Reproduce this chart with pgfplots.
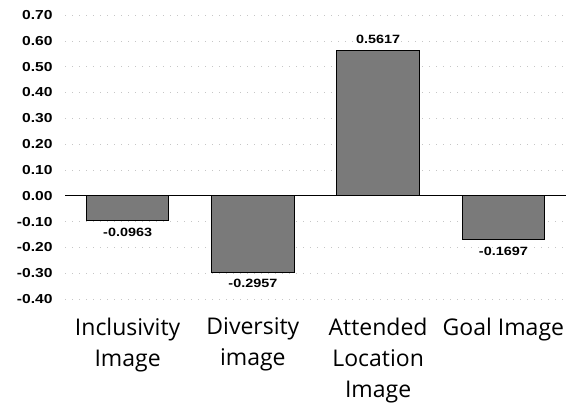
\documentclass[border=0pt]{standalone}
\usepackage{fontspec}
\setmainfont{Liberation Sans}
\newfontfamily\numfont[FakeStretch=1.2]{Liberation Sans}
\newfontfamily\catfont{Open Sans}
\usepackage{pgfplots}
\pgfplotsset{compat=1.18}
\definecolor{barfill}{RGB}{122,122,122}
\begin{document}
\begin{tikzpicture}[x=1pt,y=1pt]
\useasboundingbox (0,0) rectangle (575,405);
\begin{axis}[
  at={(65pt,106pt)}, anchor=south west,
  scale only axis, width=501pt, height=284pt,
  xmin=-0.5, xmax=3.5, ymin=-0.4, ymax=0.7,
  ytick={-0.4,-0.3,...,0.71},
  xtick={0,1,2,3},
  xticklabels={{Inclusivity\\Image},{Diversity\\image},{Attended\\Location\\Image},{Goal Image}},
  xticklabel style={font=\catfont\fontsize{23}{31}\selectfont, align=center, yshift=-15pt},
  yticklabel style={font=\numfont\bfseries\fontsize{13}{15}\selectfont, /pgf/number format/fixed, /pgf/number format/fixed zerofill, /pgf/number format/precision=2, xshift=-9pt},
  /pgf/number format/assume math mode=true,
  axis line style={draw=none},
  major tick length=0pt,
  ymajorgrids,
  major grid style={gray!45, dash pattern=on 1pt off 6pt, line width=0.6pt},
  ybar, bar width=0.66,
  bar shift=0pt,
  nodes near coords,
  point meta=y,
  nodes near coords style={/pgf/number format/fixed, /pgf/number format/fixed zerofill, /pgf/number format/precision=4, /pgf/number format/assume math mode=true},
  every node near coord/.append style={font=\numfont\bfseries\fontsize{12}{14}\selectfont, inner sep=7pt},
  clip=false,
]
\addplot[fill=barfill, draw=black, line width=1pt] coordinates {
  (0,-0.0963)
  (1,-0.2957)
  (2,0.5617)
  (3,-0.1697)
};
\draw[black, line width=1.3pt] (axis cs:-0.5,0) -- (axis cs:3.5,0);
\end{axis}
\end{tikzpicture}
\end{document}
